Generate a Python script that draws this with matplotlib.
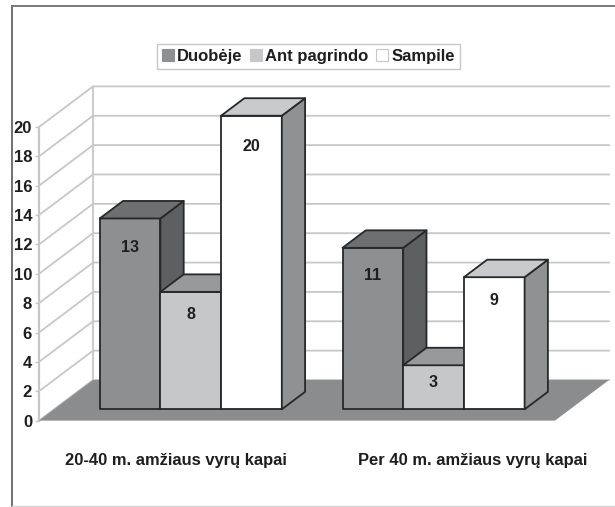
import numpy as np
import matplotlib
matplotlib.use('agg')
import matplotlib.pyplot as plt
from matplotlib.patches import Patch, Polygon
from matplotlib.lines import Line2D

# data
categories = ['20-40 m. amžiaus vyrų kapai', 'Per 40 m. amžiaus vyrų kapai']
series = ['Duobėje', 'Ant pagrindo', 'Sampile']
duobeje = [13, 11]
ant_pagrindo = [8, 3]
sampile = [20, 9]
y_ticks = list(range(0, 21, 2))

plt.rcParams['font.family'] = ['Liberation Sans', 'DejaVu Sans']
plt.rcParams['font.weight'] = 'bold'

W, H = 615, 507
EDGE = '#26282a'
GRID = '#c6c8c8'
TXT = '#1e1e20'
# front, side, top
cols = [('#8d8f91', '#5d5f61', '#6e6f71'),
        ('#c5c7c9', '#8d8f91', '#98999b'),
        ('#ffffff', '#8f9193', '#c9cacc')]

fig = plt.figure(figsize=(W/100, H/100), dpi=100)
ax = fig.add_axes([39/W, 1-420.6/H, 568.7/W, 334.6/H])
ax.set_xlim(0, 568.7/60.7)
ax.set_ylim(0, 334.6/14.68)
ax.patch.set_visible(False)

DX = 54/60.7   # oblique offset of the back wall
DY = 40.6/14.68
FLOOR_W = 516/60.7


def pr(x, y, d):
    return (x + DX*d, y + DY*d)


def poly(pts, fc, ec='none', lw=1.3, z=2):
    ax.add_patch(Polygon(pts, closed=True, fc=fc, ec=ec, lw=lw, zorder=z,
                         clip_on=False, joinstyle='round'))


# walls
for t in y_ticks:
    ax.plot(*zip(pr(0, t, 0), pr(0, t, 1), pr(FLOOR_W, t, 1)), color=GRID, lw=1.3,
            clip_on=False, zorder=1)
ax.plot(*zip(pr(0, 0, 1), pr(0, 20, 1)), color=GRID, lw=1.3, zorder=1)
ax.plot(*zip(pr(FLOOR_W, 0, 1), pr(FLOOR_W, 20, 1)), color=GRID, lw=1.3, zorder=1)
ax.plot([0, 0], [0, 20], color=GRID, lw=1.6, zorder=1, clip_on=False)

# floor
poly([pr(0, 0, 0), pr(FLOOR_W, 0, 0), pr(FLOOR_W, 0, 1), pr(0, 0, 1)], '#8b8c8e')

# bars
group_x = [1.0 - 15/60.7, 5.0 - 15/60.7]
d0, d1 = 0.278, 0.709
values = [duobeje, ant_pagrindo, sampile]
label_drop = [[29, 28], [23, 17], [31, 23]]
for g, gx in enumerate(group_x):
    for s in range(3):
        v = values[s][g]
        x0, x1 = gx + s, gx + s + 1
        front, side, top = cols[s]
        poly([pr(x0, 0, d0), pr(x1, 0, d0), pr(x1, v, d0), pr(x0, v, d0)], front, EDGE, z=3)
        poly([pr(x1, 0, d0), pr(x1, 0, d1), pr(x1, v, d1), pr(x1, v, d0)], side, EDGE, z=3)
        poly([pr(x0, v, d0), pr(x1, v, d0), pr(x1, v, d1), pr(x0, v, d1)], top, EDGE, z=3)
        cx, cy = pr((x0+x1)/2, v, d0)
        ax.annotate(str(v), (cx, cy), xytext=(0, -label_drop[s][g]*0.72),
                    textcoords='offset points', ha='center', va='center',
                    fontsize=11.5, color=TXT, zorder=5, annotation_clip=False)

# axes
for sp in ax.spines.values():
    sp.set_visible(False)
ax.set_yticks(y_ticks)
ax.set_yticklabels([str(t) for t in y_ticks], fontsize=12, color=TXT)
ax.tick_params(axis='y', length=3, width=1, color=GRID, pad=2)
ax.set_xticks([136.5/60.7, 433.5/60.7])
ax.set_xticklabels(categories, fontsize=11.9, color=TXT)
ax.tick_params(axis='x', length=0, pad=23)

# legend
handles = [Patch(fc=cols[i][0], ec=GRID if i else '#8d8f91', lw=0.8) for i in range(3)]
leg = fig.legend(handles, series, loc='center', bbox_to_anchor=(308.5/W, 1-56/H), ncol=3,
                 fontsize=12, frameon=True, fancybox=False, edgecolor=GRID, framealpha=1,
                 handlelength=0.7, handleheight=0.7, handletextpad=0.2, columnspacing=0.45,
                 borderpad=0.3, borderaxespad=0)
leg.get_frame().set_linewidth(1)
for t in leg.get_texts():
    t.set_color(TXT)

# outer frame
fig.add_artist(Line2D([12/W, 12/W], [0, 1-6/H], color='#55575a', lw=1.2))
fig.add_artist(Line2D([12/W, 1], [1-6/H, 1-6/H], color='#77797b', lw=1.4))
fig.add_artist(Line2D([12/W, 1], [1-506/H, 1-506/H], color='#d5d5d5', lw=1))

fig.savefig('out.png', dpi=100)
